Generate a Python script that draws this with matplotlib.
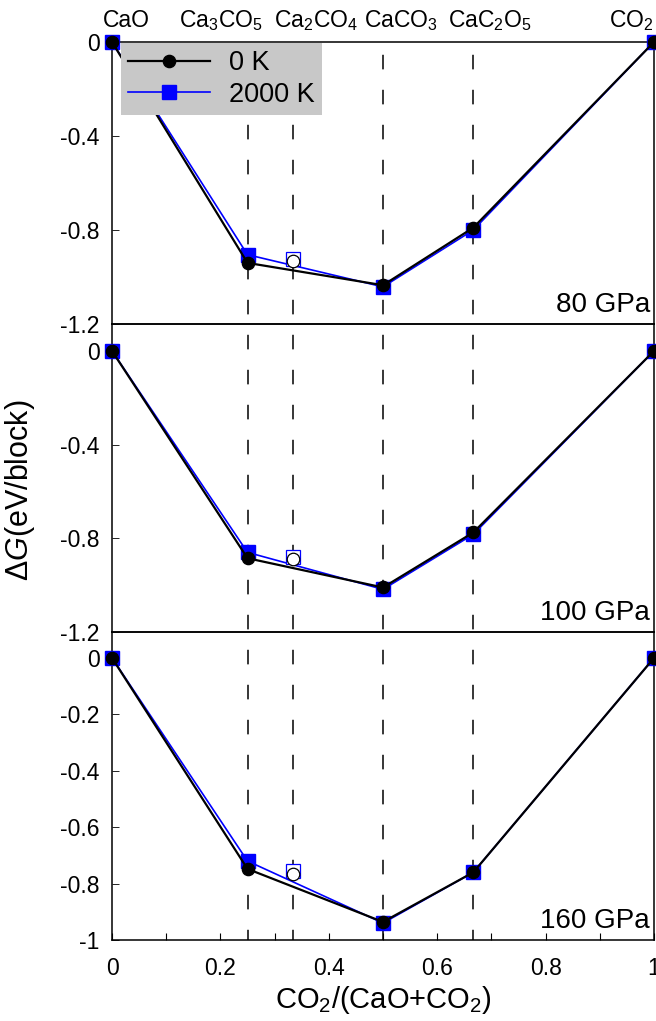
import matplotlib
matplotlib.use("Agg")
import matplotlib.pyplot as plt
from matplotlib.lines import Line2D
from matplotlib.transforms import blended_transform_factory

plt.rcParams['font.family'] = ['Liberation Sans', 'DejaVu Sans']
plt.rcParams['mathtext.fontset'] = 'custom'
plt.rcParams['mathtext.rm'] = 'Liberation Sans'
plt.rcParams['mathtext.it'] = 'Liberation Sans:italic'
plt.rcParams['mathtext.bf'] = 'Liberation Sans:bold'
plt.rcParams['lines.scale_dashes'] = False

# ---------------- data ----------------
phase_names = ["CaO", "Ca$_3$CO$_5$", "Ca$_2$CO$_4$", "CaCO$_3$", "CaC$_2$O$_5$", "CO$_2$"]
x_hull = [0.0, 0.25, 0.5, 2/3, 1.0]          # CaO, Ca3CO5, CaCO3, CaC2O5, CO2
x_ca2co4 = 1/3
x_guides = [0.25, 1/3, 0.5, 2/3]
pressures = ["80 GPa", "100 GPa", "160 GPa"]

dG_0K = [
    [0.0, -0.940, -1.035, -0.790, 0.0],
    [0.0, -0.885, -1.010, -0.775, 0.0],
    [0.0, -0.748, -0.936, -0.760, 0.0],
]
dG_2000K = [
    [0.0, -0.905, -1.042, -0.800, 0.0],
    [0.0, -0.860, -1.018, -0.783, 0.0],
    [0.0, -0.720, -0.940, -0.760, 0.0],
]
ca2co4_0K = [-0.932, -0.889, -0.765]
ca2co4_2000K = [-0.922, -0.878, -0.755]

ylims = [(-1.2, 0.0), (-1.2, 0.115), (-1.0, 0.092)]
yticks = [[0, -0.4, -0.8, -1.2], [0, -0.4, -0.8, -1.2], [0, -0.2, -0.4, -0.6, -0.8, -1]]
ytick_labels = [["0", "-0.4", "-0.8", "-1.2"], ["0", "-0.4", "-0.8", "-1.2"],
                ["0", "-0.2", "-0.4", "-0.6", "-0.8", "-1"]]
xticks = [0, 0.2, 0.4, 0.6, 0.8, 1.0]
xtick_labels = ["0", "0.2", "0.4", "0.6", "0.8", "1"]
xminor = [0.1, 0.3, 0.5, 0.7, 0.9]

# ---------------- layout ----------------
W, H = 656, 1021
fig = plt.figure(figsize=(W / 100, H / 100), dpi=100)
left = 112 / W
width = 542 / W
panels_px = [(42, 324), (324, 632), (632, 940)]
axes = []
for (t, b) in panels_px:
    ax = fig.add_axes([left, 1 - b / H, width, (b - t) / H])
    ax.set_facecolor('none')
    axes.append(ax)

blue = '#0000ff'
tick_fs = 16.5
for i, ax in enumerate(axes):
    ax.plot(x_hull, dG_2000K[i], '-', color=blue, lw=1.2, marker='s', ms=9.4,
            mfc=blue, mec=blue, clip_on=False, zorder=3, label='2000 K')
    ax.plot(x_hull, dG_0K[i], '-', color='k', lw=1.6, marker='o', ms=8.8,
            mfc='k', mec='k', clip_on=False, zorder=4, label='0 K')
    ax.plot([x_ca2co4], [ca2co4_2000K[i]], linestyle='none', marker='s', ms=9.4,
            mfc='white', mec=blue, mew=0.9, zorder=5)
    ax.plot([x_ca2co4], [ca2co4_0K[i]], linestyle='none', marker='o', ms=9.0,
            mfc='white', mec='k', mew=0.9, zorder=6)
    ax.set_xlim(0, 1)
    ax.set_ylim(*ylims[i])
    ax.set_yticks(yticks[i])
    ax.set_yticklabels(ytick_labels[i], fontsize=tick_fs)
    for sp in ax.spines.values():
        sp.set_linewidth(1.1)
        sp.set_color('k')
    ax.tick_params(axis='y', direction='in', length=5, width=0.6, pad=9)
    if i < 2:
        ax.set_xticks([])
    else:
        ax.set_xticks(xticks)
        ax.set_xticklabels(xtick_labels, fontsize=tick_fs)
        ax.set_xticks(xminor, minor=True)
        ax.tick_params(axis='x', which='both', direction='in', length=5, width=0.8, pad=12)
    ax.annotate(pressures[i], xy=(1, 0), xycoords='axes fraction',
                xytext=(-3, 8.5), textcoords='offset points',
                ha='right', va='baseline', fontsize=20)

# legend (top panel)
h, l = axes[0].get_legend_handles_labels()
leg = axes[0].legend([h[1], h[0]], [l[1], l[0]], loc='upper left',
                     bbox_to_anchor=(8 / 542, 1.0), borderaxespad=0.05,
                     fontsize=19.5, frameon=True, fancybox=False, framealpha=1,
                     facecolor='#c8c8c8', edgecolor='none', numpoints=1,
                     handlelength=3.0, handletextpad=0.72, labelspacing=0.2,
                     borderpad=0.26)

# vertical dashed guides across all panels
trans = blended_transform_factory(axes[2].transData, fig.transFigure)
for xv in x_guides:
    ln = Line2D([xv, xv], [1 - 42 / H, 1 - 940 / H], transform=trans, color='k',
                lw=1.1, linestyle=(16, (10.5, 14.7)), zorder=-1)
    fig.add_artist(ln)

# phase labels on top
label_x = [0.026, 0.201, 0.376, 0.533, 0.697]
label_y = 1 - 27 / H
for name, lx in zip(phase_names[:-1], label_x):
    fig.text(left + lx * width, label_y, name, ha='center', va='baseline', fontsize=16.5)
fig.text(1 - 2 / W, label_y, phase_names[-1], ha='right', va='baseline', fontsize=16.5)

# axis labels
fig.text(left + 0.5 * width, 1 - 1008 / H, "CO$_2$/(CaO+CO$_2$)", ha='center',
         va='baseline', fontsize=21)
fig.text(20 / W, 1 - 490 / H, "\u0394$G$(eV/block)", rotation=90, ha='center',
         va='center', fontsize=22)

fig.savefig("out.png", dpi=100)
